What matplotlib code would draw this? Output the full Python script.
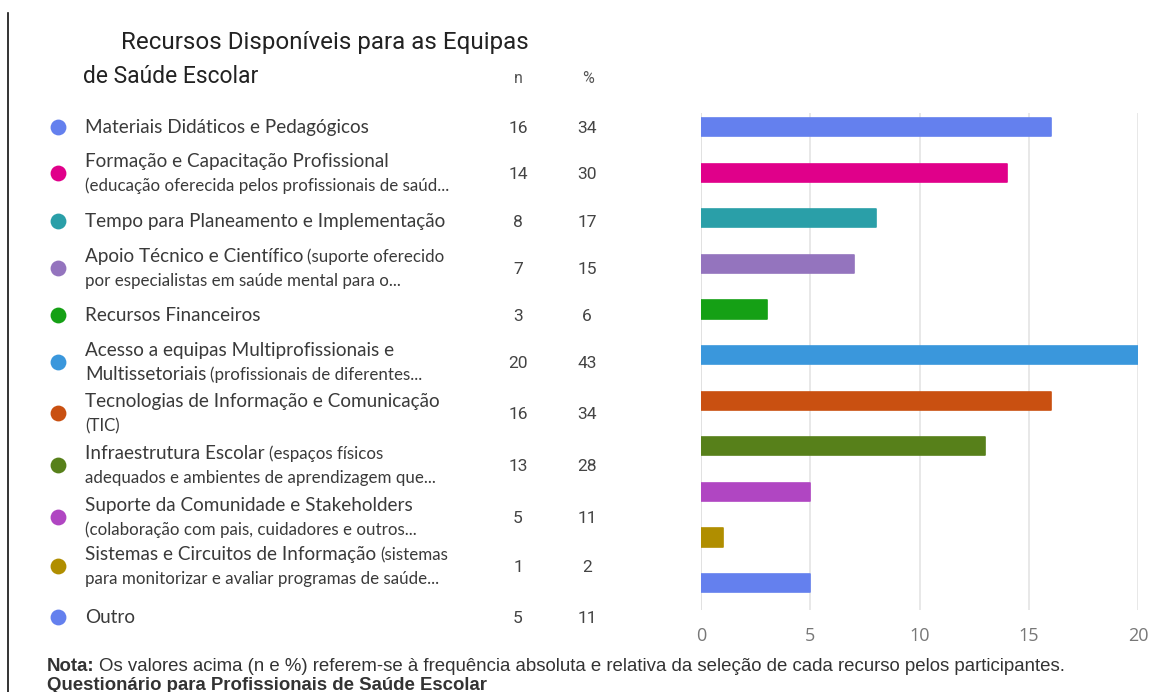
import matplotlib
matplotlib.use("Agg")
import matplotlib.pyplot as plt
from matplotlib.lines import Line2D

# ---------------- data ----------------
label_lines = [
    ["Materiais Didáticos e Pedagógicos"],
    ["Formação e Capacitação Profissional", "|(educação oferecida pelos profissionais de saúd..."],
    ["Tempo para Planeamento e Implementação"],
    ["Apoio Técnico e Científico|(suporte oferecido", "|por especialistas em saúde mental para o..."],
    ["Recursos Financeiros"],
    ["Acesso a equipas Multiprofissionais e", "Multissetoriais|(profissionais de diferentes..."],
    ["Tecnologias de Informação e Comunicação", "|(TIC)"],
    ["Infraestrutura Escolar|(espaços físicos", "|adequados e ambientes de aprendizagem que..."],
    ["Suporte da Comunidade e Stakeholders", "|(colaboração com pais, cuidadores e outros..."],
    ["Sistemas e Circuitos de Informação|(sistemas", "|para monitorizar e avaliar programas de saúde..."],
    ["Outro"],
]
n_values = [16, 14, 8, 7, 3, 20, 16, 13, 5, 1, 5]
pct_values = [34, 30, 17, 15, 6, 43, 34, 28, 11, 2, 11]
colors = ["#6480EE", "#E0008A", "#2A9FA8", "#9474BE", "#15A015", "#3A97DC",
          "#C95011", "#57801A", "#B046C2", "#B08E00", "#6480EE"]
x_ticks = [0, 5, 10, 15, 20]

title_lines = ["Recursos Disponíveis para as Equipas", "de Saúde Escolar"]
note_bold = "Nota:"
note_text = "Os valores acima (n e %) referem-se à frequência absoluta e relativa da seleção de cada recurso pelos participantes."
source_text = "Questionário para Profissionais de Saúde Escolar"

# ---------------- layout ----------------
W, H = 1151, 692
row_y = [127, 173, 221, 268, 315, 362, 413, 465, 517, 566, 617]

fig = plt.figure(figsize=(W / 100, H / 100), dpi=100)
fig.patch.set_facecolor("white")

# overlay in pixel coordinates
ov = fig.add_axes([0, 0, 1, 1])
ov.set_xlim(0, W)
ov.set_ylim(H, 0)
ov.axis("off")

renderer = fig.canvas.get_renderer()

def px_right(t):
    bb = t.get_window_extent(renderer)
    return ov.transData.inverted().transform((bb.x1, bb.y0))[0]

# left black rule
ov.add_line(Line2D([8, 8], [13, H], color="#111111", lw=1.2))

# title
ov.text(121, 49, title_lines[0], fontsize=17.4, family="Roboto", color="#222222", va="baseline")
ov.text(83, 83, title_lines[1], fontsize=16.5, family="Roboto", color="#222222", va="baseline")
ov.text(518, 83, "n", fontsize=11.5, family="Roboto", color="#555555", ha="center", va="baseline")
ov.text(588, 83, "%", fontsize=11.5, family="Roboto", color="#555555", ha="center", va="baseline")

BIG = 13.6
SMALL = 12.2
TXT = "#3a3a3a"
for i, lines in enumerate(label_lines):
    yc = row_y[i]
    ov.scatter([58], [yc], s=130, color=colors[i], zorder=3, linewidths=0)
    if len(lines) == 1:
        bases = [yc + 6]
    else:
        bases = [yc - 12 + 6, yc + 12 + 6]
    for line, yb in zip(lines, bases):
        big, _, small = line.partition("|")
        x = 85
        if big:
            t = ov.text(x, yb, big, fontsize=BIG, family="Lato", color=TXT, va="baseline")
            x = px_right(t) + 4
        if small:
            ov.text(x, yb, small, fontsize=SMALL, family="Lato", color=TXT, va="baseline")
    ov.text(518, yc + 6, str(n_values[i]), fontsize=12.5, family="Roboto", color="#444444",
            ha="center", va="baseline")
    ov.text(587, yc + 6, str(pct_values[i]), fontsize=12.5, family="Roboto", color="#444444",
            ha="center", va="baseline")

# footer
t = ov.text(47, 671, note_bold, fontsize=13.4, family="Liberation Sans", weight="bold",
            color="#333333", va="baseline")
ov.text(px_right(t) + 4, 671, note_text, fontsize=13.4, family="Liberation Sans",
        color="#333333", va="baseline")
ov.text(47, 690, source_text, fontsize=13.4, family="Liberation Sans", weight="bold",
        color="#333333", va="baseline")

# ---------------- bar chart ----------------
ax = fig.add_axes([701 / W, 1 - 610 / H, (1138 - 701) / W, (610 - 113) / H])
ypos = list(range(len(n_values)))
ax.barh(ypos, n_values, height=0.40, color=colors, edgecolor=colors, linewidth=1.2,
        joinstyle="round", zorder=3)
ax.set_xlim(0, 20)
ax.set_ylim(10.59, -0.31)
ax.set_xticks(x_ticks)
ax.set_xticklabels([str(v) for v in x_ticks], family="Open Sans", fontsize=13, color="#777777")
ax.set_yticks([])
ax.tick_params(axis="x", length=0, pad=12)
for s in ax.spines.values():
    s.set_visible(False)
ax.grid(axis="x", color="#e4e4e4", lw=1.2, zorder=0)
ax.axvline(0, color="#cccccc", lw=1.2, zorder=1)
ax.set_facecolor("none")

fig.savefig("out.png", dpi=100)
